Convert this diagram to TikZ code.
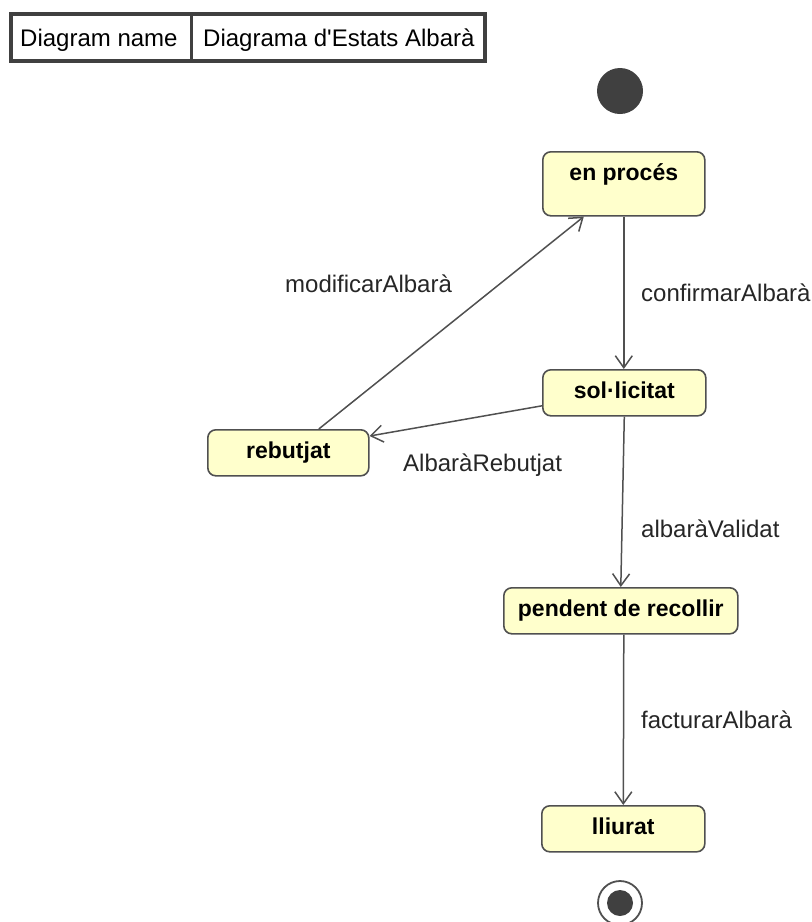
\documentclass[tikz,border=0pt]{standalone}
\usepackage{fontspec}
\setmainfont{Liberation Sans}
\usetikzlibrary{arrows.meta}
\definecolor{statefill}{HTML}{FFFFCC}
\definecolor{stateline}{HTML}{505050}
\definecolor{edgeline}{HTML}{505050}
\definecolor{dot}{HTML}{404040}
\begin{document}
\begin{tikzpicture}[x=1pt,y=-1pt,
  statebox/.style={draw=stateline, line width=1.6pt, fill=statefill, rounded corners=8pt,
    anchor=north west, inner xsep=0pt, inner ysep=0pt, text height=29pt, text depth=17pt,
    font=\fontsize{23}{26}\selectfont\bfseries},
  trans/.style={draw=edgeline, line width=1.5pt, -{Straight Barb[length=12pt,width=17pt,line width=1.5pt]}},
  evlabel/.style={anchor=base west, inner sep=0pt, text=black!85, font=\fontsize{24}{28}\selectfont},
  titletext/.style={anchor=base west, inner sep=0pt, font=\fontsize{24}{28}\selectfont}]
  \useasboundingbox (0,0) rectangle (812,922);

  % diagram name frame
  \draw[draw=dot, line width=3.5pt] (11,14) rectangle (485,61);
  \draw[draw=dot, line width=2.5pt] (191.5,14) -- (191.5,61);
  \node[titletext] (tname) at (20,46) {Diagram name};
  \node[titletext] (tval) at (203,46) {Diagrama d\textquotesingle Estats Albarà};

  % initial pseudo-state
  \node[circle, fill=dot, minimum size=46pt, inner sep=0pt] (init) at (620,91) {};

  % states
  \node[statebox, minimum width=162pt, text depth=35pt] (ep) at (542,151) {en procés};
  \node[statebox, minimum width=163pt] (sl) at (542,369) {sol·licitat};
  \node[statebox, minimum width=161pt] (rb) at (207,429) {rebutjat};
  \node[statebox, minimum width=234pt] (pd) at (503,587) {pendent de recollir};
  \node[statebox, minimum width=163pt] (ll) at (541,805) {lliurat};

  % final state
  \node[circle, draw=stateline, line width=1.8pt, fill=white, minimum size=44pt, inner sep=0pt] (fin) at (620,903) {};
  \node[circle, fill=dot, minimum size=26pt, inner sep=0pt] (finc) at (fin) {};

  % transitions
  \draw[trans] (ep.south) -- (ep.south |- sl.north);
  \draw[trans] ([yshift=-13pt]sl.west) -- ([yshift=-7pt]rb.north east);
  \draw[trans] ([xshift=30.5pt]rb.north) -- ([xshift=-40pt]ep.south);
  \draw[trans] (sl.south) -- (pd.north);
  \draw[trans] ([xshift=3pt]pd.south) -- (ll.north);

  % transition labels
  \node[evlabel] (lmod) at (285,292) {modificarAlbarà};
  \node[evlabel] (lconf) at (641,301) {confirmarAlbarà};
  \node[evlabel] (lreb) at (403,471) {AlbaràRebutjat};
  \node[evlabel] (lval) at (641,537) {albaràValidat};
  \node[evlabel] (lfac) at (641,728) {facturarAlbarà};
\end{tikzpicture}
\end{document}
